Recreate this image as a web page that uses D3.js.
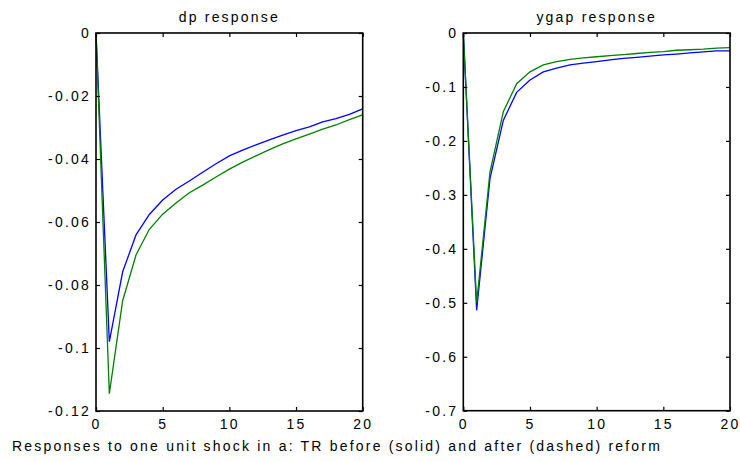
<!DOCTYPE html>
<html>
<head>
<meta charset="utf-8">
<script src="https://cdn.jsdelivr.net/npm/d3@7.9.0/dist/d3.min.js"></script>
<style>
  body { margin: 0; background: #fff; }
  svg text { font-family: "Liberation Sans", Arial, sans-serif; fill: #000; }
</style>
</head>
<body>
<svg id="chart" width="740" height="461"></svg>
<script>
// periods 0..20
const periods = d3.range(0, 21);

const dpBefore = [0, -0.098, -0.0758, -0.0641, -0.0576, -0.053, -0.0496, -0.047, -0.0442, -0.0415,
  -0.039, -0.0372, -0.0355, -0.0339, -0.0324, -0.031, -0.0298, -0.0282, -0.0272, -0.0258, -0.0241];
const dpAfter = [0, -0.1145, -0.085, -0.0705, -0.0623, -0.0575, -0.054, -0.0507, -0.0483, -0.0457,
  -0.0432, -0.041, -0.039, -0.037, -0.0352, -0.0336, -0.0321, -0.0305, -0.0292, -0.0275, -0.026];

const ygapBefore = [0, -0.514, -0.27, -0.162, -0.11, -0.087, -0.072, -0.065, -0.059, -0.056,
  -0.053, -0.05, -0.047, -0.045, -0.043, -0.0405, -0.039, -0.037, -0.035, -0.033, -0.033];
const ygapAfter = [0, -0.5, -0.258, -0.146, -0.094, -0.072, -0.059, -0.053, -0.049, -0.046,
  -0.044, -0.042, -0.04, -0.038, -0.036, -0.0345, -0.032, -0.031, -0.03, -0.028, -0.027];

const xTicks = [0, 5, 10, 15, 20];
const dpTicks = [0, -0.02, -0.04, -0.06, -0.08, -0.1, -0.12];
const ygapTicks = [0, -0.1, -0.2, -0.3, -0.4, -0.5, -0.6, -0.7];
const caption = "Responses to one unit shock in a: TR before (solid) and after (dashed) reform";

const svg = d3.select('#chart');
const tickLen = 4;
const fontSize = 14;
const spacing = '2.2px';

function drawPanel(opts) {
  const { left, right, top, bottom, title, before, after, yDomain, yTicks } = opts;
  const x = d3.scaleLinear().domain([0, 20]).range([left, right]);
  const y = d3.scaleLinear().domain(yDomain).range([bottom, top]);
  const g = svg.append('g');

  const line = d3.line().x((d, i) => x(periods[i])).y(d => y(d));

  g.append('path').datum(before)
    .attr('d', line).attr('fill', 'none')
    .attr('stroke', '#0000ff').attr('stroke-width', 1.3);
  g.append('path').datum(after)
    .attr('d', line).attr('fill', 'none')
    .attr('stroke', '#008000').attr('stroke-width', 1.3);

  // inside ticks on all four sides
  const fmt = d => d === 0 ? '0' : String(d);
  g.append('g').attr('transform', `translate(0,${bottom})`)
    .call(d3.axisBottom(x).tickValues(xTicks).tickSizeInner(-tickLen).tickSizeOuter(0).tickPadding(8).tickFormat(fmt));
  g.append('g').attr('transform', `translate(0,${top})`)
    .call(d3.axisTop(x).tickValues(xTicks).tickSizeInner(-tickLen).tickSizeOuter(0).tickFormat(''));
  g.append('g').attr('transform', `translate(${left},0)`)
    .call(d3.axisLeft(y).tickValues(yTicks).tickSizeInner(-tickLen).tickSizeOuter(0).tickPadding(5).tickFormat(fmt));
  g.append('g').attr('transform', `translate(${right},0)`)
    .call(d3.axisRight(y).tickValues(yTicks).tickSizeInner(-tickLen).tickSizeOuter(0).tickFormat(''));

  g.selectAll('.domain').remove();
  g.selectAll('.tick line').attr('stroke', '#000').attr('stroke-width', 1.2);
  g.selectAll('.tick text')
    .attr('font-size', fontSize).attr('letter-spacing', spacing)
    .attr('font-family', '"Liberation Sans", Arial, sans-serif');

  g.append('rect')
    .attr('x', left).attr('y', top)
    .attr('width', right - left).attr('height', bottom - top)
    .attr('fill', 'none').attr('stroke', '#000').attr('stroke-width', 1.6);

  g.append('text')
    .attr('x', (left + right) / 2).attr('y', 22)
    .attr('text-anchor', 'middle')
    .attr('font-size', fontSize).attr('letter-spacing', spacing)
    .text(title);
}

drawPanel({ left: 96, right: 362.7, top: 33, bottom: 411, title: 'dp response',
  before: dpBefore, after: dpAfter, yDomain: [-0.12, 0], yTicks: dpTicks });
drawPanel({ left: 463.3, right: 730, top: 33, bottom: 410.7, title: 'ygap response',
  before: ygapBefore, after: ygapAfter, yDomain: [-0.7, 0], yTicks: ygapTicks });

svg.append('text')
  .attr('x', 12).attr('y', 451)
  .attr('font-size', fontSize).attr('letter-spacing', spacing)
  .text(caption);
</script>
</body>
</html>
